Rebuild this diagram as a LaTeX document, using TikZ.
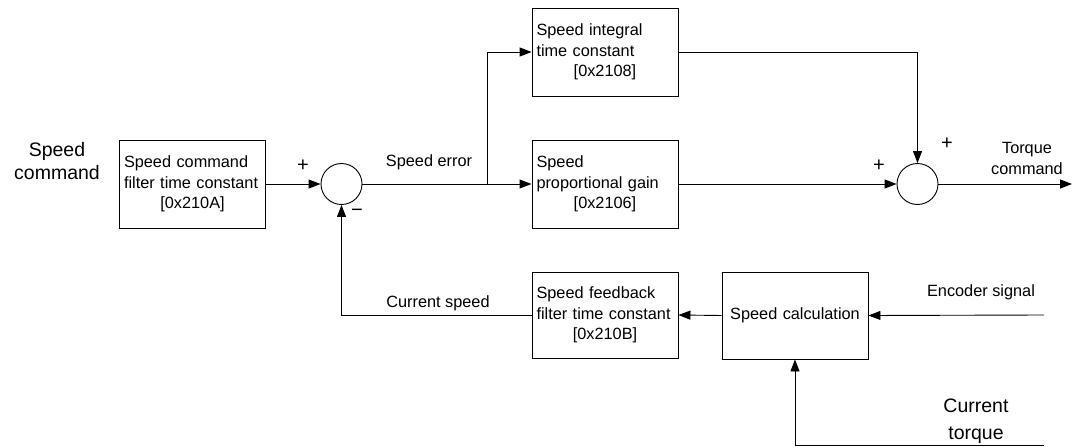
\documentclass[tikz,border=0pt]{standalone}
\usepackage{fontspec}
\setmainfont{Liberation Sans}
\usepackage{tikz}
\usetikzlibrary{arrows.meta,positioning}

\newcommand{\regno}[1]{\makebox[\hsize]{#1}}

\begin{document}
\begin{tikzpicture}[
  x=1pt,y=-1pt,
  font=\fontsize{16.3}{20.5}\selectfont,
  line width=0.9pt,
  >={Triangle[length=12pt,width=9pt]},
  block/.style={draw,minimum width=146pt,minimum height=88pt,inner xsep=4.5pt,text width=137pt,align=left},
  sumjn/.style={draw,circle,minimum size=41pt,inner sep=0pt},
  biglbl/.style={font=\fontsize{19.5}{23}\selectfont,align=center},
  lbl/.style={align=center},
  sgn/.style={font=\fontsize{20}{20}\selectfont,inner sep=0pt}
]
\useasboundingbox (0,0) rectangle (1074,447);

% blocks
\node[block] (cmdf) at (192.5,184) {Speed command\\filter time constant\\\regno{[0x210A]}};
\node[block] (integ) at (605,52) {Speed integral\\time constant\\\regno{[0x2108]}};
\node[block] (prop) at (605,184) {Speed\\proportional gain\\\regno{[0x2106]}};
\node[block,minimum height=86pt] (fbf) at (605,315) {Speed feedback\\filter time constant\\\regno{[0x210B]}};
\node[block,minimum height=87pt,align=center] (calc) at (795,315.5) {Speed calculation};

% summing junctions
\node[sumjn] (sum1) at (341.5,184) {};
\node[sumjn] (sum2) at (917.5,184) {};

% free ends
\coordinate (split) at (487,184);
\coordinate (tqout) at (1072,184);
\coordinate (enc) at (1044,315);
\coordinate (tqin) at (1044,445);

% texts
\node[biglbl] (spdcmd) at (57,161) {Speed\\command};
\node[lbl] (errlbl) at (429,162) {Speed error};
\node[lbl] (curspd) at (438,303) {Current speed};
\node[lbl] (enclbl) at (981,292) {Encoder signal};
\node[lbl] (tqcmd) at (1027,158.5) {Torque\\command};
\node[biglbl,font=\fontsize{19.5}{27}\selectfont] (curtq) at (976,421.5) {Current\\torque};
\node[sgn] (p1) at (303,166) {+};
\node[sgn] (m1) at (357,213) {−};
\node[sgn] (p2) at (879,166) {+};
\node[sgn] (p3) at (947,144) {+};

% connectors
\draw[->] (cmdf.east) -- (sum1.west);
\draw (sum1.east) -- (split);
\draw[->] (split) -- (prop.west);
\draw[->] (split) |- (integ.west);
\draw[->] (integ.east) -| (sum2.north);
\draw[->] (prop.east) -- (sum2.west);
\draw[->] (sum2.east) -- (tqout);
\draw[->] (enc) -- (calc.east);
\draw[->] (calc.west) -- (fbf.east);
\draw[->] (fbf.west) -| (sum1.south);
\draw[->] (tqin) -| (calc.south);
\end{tikzpicture}
\end{document}
